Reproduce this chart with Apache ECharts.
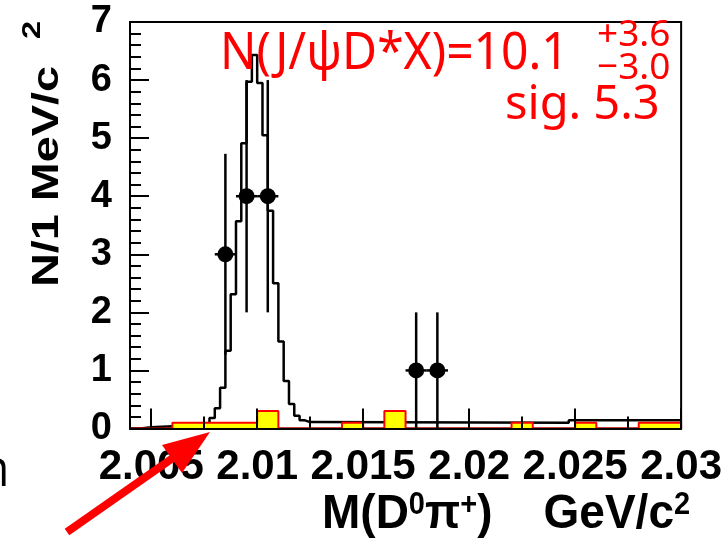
<!DOCTYPE html>
<html><head><meta charset="utf-8">
<script src="https://cdn.jsdelivr.net/npm/echarts@6/dist/echarts.min.js"></script>
<style>html,body{margin:0;padding:0;background:#fff}#c{width:725px;height:545px}</style>
</head><body><div id="c"></div>
<script>
// ---- axis ticks ----
const xMin = 2.004, xMax = 2.030;
const xTicks = [2.005, 2.01, 2.015, 2.02, 2.025, 2.03];
const xMinorTicks = [2.0075, 2.0125, 2.0175, 2.0225, 2.0275];
const yMin = 0, yMax = 7;

// ---- data points (1 MeV bins) ----
const ptX = [2.0085, 2.0095, 2.0105, 2.0175, 2.0185];
const ptY = [3, 4, 4, 1, 1];
const ptErr = [1.73, 2, 2, 1, 1];
const binHalf = 0.0005;

// ---- sideband histogram (yellow) ----
const sbLo = [2.006, 2.007, 2.008, 2.009, 2.010, 2.014, 2.016, 2.022, 2.025, 2.028, 2.029];
const sbVal = [0.1, 0.1, 0.1, 0.1, 0.3, 0.1, 0.3, 0.1, 0.1, 0.1, 0.1];
const sbWidth = 0.001;

// ---- fit curve (left edges of fine bins, values) ----
const curveX = [2.0040, 2.0045, 2.0050, 2.0055, 2.0060, 2.0065, 2.00675, 2.0070, 2.00725, 2.0075,
  2.00775, 2.0080, 2.00825, 2.0085, 2.00875, 2.0090, 2.00925, 2.0095, 2.00975, 2.0100,
  2.01025, 2.0105, 2.01075, 2.0110, 2.01125, 2.0115, 2.01175, 2.0120, 2.01225, 2.0125,
  2.0247, 2.0300];
const curveY = [0, 0.02, 0.03, 0.04, 0.05, 0.06, 0.06, 0.06, 0.08, 0.10,
  0.18, 0.35, 0.70, 1.34, 2.31, 3.57, 4.91, 5.97, 6.43, 5.95,
  5.05, 3.75, 2.50, 1.50, 0.82, 0.42, 0.22, 0.14, 0.11, 0.10,
  0.14, 0.14];

// build step outline for sideband histogram
const sbData = [[xMin, 0]];
let prevHi = xMin;
sbLo.forEach((lo, i) => {
  if (lo > prevHi + 1e-9) sbData.push([prevHi, 0]);
  sbData.push([lo, sbVal[i]]);
  prevHi = lo + sbWidth;
});
sbData.push([prevHi, 0]);
if (prevHi < xMax - 1e-9) sbData.push([xMax, 0]);

const curveData = curveX.map((x, i) => [x, curveY[i]]);
const ptData = ptX.map((x, i) => [x, ptY[i], ptErr[i], binHalf]);

const labFont = '"Liberation Sans Narrow", "Liberation Sans", Arial, sans-serif';
const boldFont = '"Liberation Sans", Arial, sans-serif';
const redFont = '"Noto Sans", "Open Sans", sans-serif';

const chart = echarts.init(document.getElementById('c'), null, {renderer: 'canvas'});
chart.setOption({
  animation: false,
  backgroundColor: '#fff',
  grid: {left: 130, right: 40, top: 22, bottom: 116.5, show: true, borderColor: '#000', borderWidth: 2, backgroundColor: 'transparent'},
  xAxis: [{
    type: 'value', min: xMin, max: xMax, position: 'bottom', z: 5,
    axisLine: {show: true, onZero: false, lineStyle: {color: '#000', width: 2}},
    axisTick: {show: true, inside: true, length: 20, customValues: xTicks, lineStyle: {color: '#000', width: 2}},
    axisLabel: {show: true, customValues: xTicks, margin: 18, color: '#000', fontWeight: 'bold', fontSize: 42, fontFamily: labFont,
      formatter: v => String(+v.toFixed(3))},
    splitLine: {show: false}
  }, {
    type: 'value', min: xMin, max: xMax, position: 'bottom', z: 5,
    axisLine: {show: false},
    axisTick: {show: true, inside: true, length: 12, customValues: xMinorTicks, lineStyle: {color: '#000', width: 2}},
    axisLabel: {show: false},
    splitLine: {show: false}
  }],
  yAxis: {
    type: 'value', min: yMin, max: yMax, interval: 1, z: 5,
    axisLine: {show: true, onZero: false, lineStyle: {color: '#000', width: 2}},
    axisTick: {show: true, inside: true, length: 19, lineStyle: {color: '#000', width: 2}},
    minorTick: {show: true, splitNumber: 5, length: 11, lineStyle: {color: '#000', width: 2}},
    axisLabel: {margin: 18, color: '#000', fontWeight: 'bold', fontSize: 38, fontFamily: labFont},
    splitLine: {show: false}, minorSplitLine: {show: false}
  },
  series: [{
    type: 'line', name: 'fit', data: curveData, step: 'end', symbol: 'none', z: 2,
    lineStyle: {color: '#000', width: 2.5}, xAxisIndex: 0
  }, {
    type: 'line', name: 'sideband', data: sbData, step: 'end', symbol: 'none', z: 3,
    lineStyle: {color: '#ff0000', width: 2}, areaStyle: {color: '#ffff00', opacity: 1}
  }, {
    type: 'custom', name: 'data', data: ptData, z: 4,
    encode: {x: 0, y: 1},
    renderItem: (params, api) => {
      const x = api.value(0), y = api.value(1), e = api.value(2), xe = api.value(3);
      const p = api.coord([x, y]);
      const t = api.coord([x, y + e]);
      const b = api.coord([x, Math.max(0, y - e)]);
      const l = api.coord([x - xe, y]);
      const r = api.coord([x + xe, y]);
      return {type: 'group', children: [
        {type: 'line', shape: {x1: t[0], y1: t[1], x2: b[0], y2: b[1]}, style: {stroke: '#000', lineWidth: 2.5}},
        {type: 'line', shape: {x1: l[0], y1: l[1], x2: r[0], y2: r[1]}, style: {stroke: '#000', lineWidth: 2.5}},
        {type: 'circle', shape: {cx: p[0], cy: p[1], r: 8}, style: {fill: '#000'}}
      ]};
    }
  }],
  graphic: [
    // y-axis title
    {type: 'text', x: 48, y: 287, rotation: Math.PI / 2, scaleX: 1.3, z: 10,
      style: {text: 'N/1 MeV/c', font: 'bold 36px ' + boldFont, fill: '#000', align: 'left', verticalAlign: 'middle'}},
    {type: 'text', x: 33, y: 30, rotation: Math.PI / 2, scaleX: 1.3, z: 10,
      style: {text: '2', font: 'bold 25px ' + boldFont, fill: '#000', align: 'center', verticalAlign: 'middle'}},
    // x-axis title
    {type: 'text', x: 322, y: 515, scaleY: 1.05, z: 10,
      style: {text: 'M(D{s|0}π{s|+})    GeV/c{s|2}', font: 'bold 46px ' + boldFont, fill: '#000', align: 'left', verticalAlign: 'middle',
        rich: {s: {font: 'bold 29px ' + boldFont, fill: '#000', verticalAlign: 'top'}}}},
    // annotation
    {type: 'text', x: 220, y: 54, scaleY: 1.07, z: 10,
      style: {text: 'N(J/ψD*X)=10.1', font: '48px ' + redFont, fill: '#ff0000', align: 'left', verticalAlign: 'middle'}},
    {type: 'text', x: 597, y: 35, z: 10,
      style: {text: '+3.6', font: '37px ' + redFont, fill: '#ff0000', align: 'left', verticalAlign: 'middle'}},
    {type: 'text', x: 597, y: 68, z: 10,
      style: {text: '−3.0', font: '37px ' + redFont, fill: '#ff0000', align: 'left', verticalAlign: 'middle'}},
    {type: 'text', x: 505, y: 106, z: 10,
      style: {text: 'sig. 5.3', font: '47px ' + redFont, fill: '#ff0000', align: 'left', verticalAlign: 'middle'}},
    // cropped slide letter
    {type: 'text', x: -17, y: 472, scaleY: 1.15, z: 10,
      style: {text: 'n', font: '42px ' + redFont, fill: '#000', align: 'left', verticalAlign: 'middle'}},
    // red arrow
    {type: 'line', z: 20, shape: {x1: 67, y1: 532, x2: 180, y2: 453}, style: {stroke: '#ff0000', lineWidth: 8}},
    {type: 'polygon', z: 20, shape: {points: [[210, 432], [182, 473], [162, 445]]}, style: {fill: '#ff0000'}}
  ]
});
</script></body></html>
